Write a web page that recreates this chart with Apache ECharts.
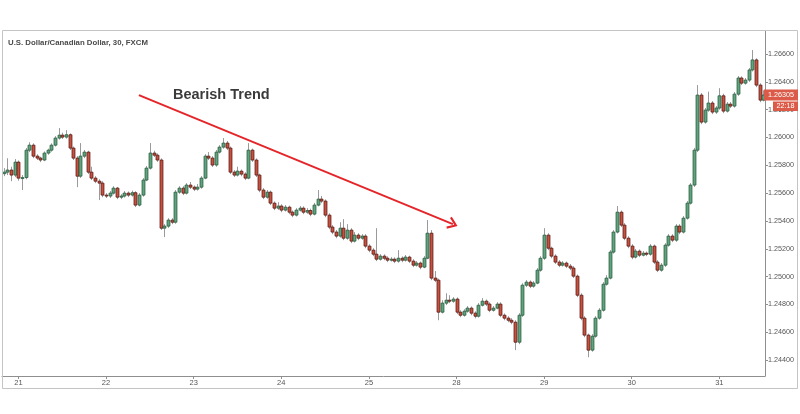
<!DOCTYPE html>
<html><head><meta charset="utf-8">
<script src="https://cdn.jsdelivr.net/npm/echarts@6/dist/echarts.min.js"></script>
<style>html,body{margin:0;padding:0;background:#fff}#c{width:800px;height:414px}</style>
</head><body><div id="c"></div>
<script>
// ---- data (1-hour candles) ----
const days = ['20','21','22','23','24','25','28','29','30','31'];
const candlesPerDay = [4,24,24,24,24,24,24,24,24,13];
const firstHour = [20,0,0,0,0,0,0,0,0,0];
const yTicks = [1.244,1.246,1.248,1.250,1.252,1.254,1.256,1.258,1.260,1.262,1.264,1.266];
const chartTitle = 'U.S. Dollar/Canadian Dollar, 30, FXCM';
const annotationText = 'Bearish Trend';
const trendStart = [37, 1.26305];
const trendEnd = [123, 1.25377];
const countdown = '22:18';

const opens = [
1.25740,1.25751,1.25766,1.25730,1.25823,1.25708,1.25712,1.25909,1.25945,1.25866,
1.25852,1.25838,1.25888,1.25909,1.25945,1.25996,1.26017,1.26003,1.26020,1.25924,
1.25852,1.25722,1.25866,1.25895,1.25751,1.25708,1.25686,1.25672,1.25586,1.25579,
1.25600,1.25636,1.25571,1.25579,1.25600,1.25586,1.25603,1.25514,1.25586,1.25694,
1.25780,1.25888,1.25873,1.25838,1.25348,1.25363,1.25406,1.25391,1.25607,1.25636,
1.25600,1.25658,1.25643,1.25629,1.25643,1.25708,1.25866,1.25852,1.25802,1.25895,
1.25931,1.25960,1.25924,1.25751,1.25730,1.25758,1.25737,1.25708,1.25909,1.25838,
1.25730,1.25622,1.25571,1.25607,1.25528,1.25492,1.25507,1.25478,1.25499,1.25463,
1.25442,1.25478,1.25492,1.25463,1.25475,1.25449,1.25514,1.25557,1.25543,1.25442,
1.25356,1.25320,1.25291,1.25348,1.25276,1.25334,1.25255,1.25298,1.25276,1.25291,
1.25219,1.25190,1.25161,1.25125,1.25147,1.25132,1.25118,1.25125,1.25111,1.25132,
1.25118,1.25140,1.25111,1.25082,1.25097,1.25068,1.25132,1.25312,1.24989,1.24974,
1.24744,1.24809,1.24830,1.24823,1.24838,1.24744,1.24722,1.24751,1.24773,1.24737,
1.24715,1.24794,1.24823,1.24802,1.24758,1.24773,1.24802,1.24722,1.24701,1.24686,
1.24672,1.24528,1.24722,1.24938,1.24960,1.24931,1.24953,1.25046,1.25132,1.25298,
1.25204,1.25147,1.25104,1.25082,1.25097,1.25075,1.25061,1.25003,1.24866,1.24701,
1.24579,1.24471,1.24571,1.24701,1.24758,1.24945,1.24989,1.25176,1.25320,1.25463,
1.25370,1.25276,1.25219,1.25140,1.25183,1.25154,1.25168,1.25161,1.25219,1.25104,
1.25046,1.25082,1.25226,1.25291,1.25262,1.25363,1.25320,1.25420,1.25528,1.25658,
1.25909,1.26305,1.26111,1.26197,1.26248,1.26183,1.26212,1.26300,1.26190,1.26240,
1.26226,1.26312,1.26428,1.26391,1.26413,1.26486,1.26558,1.26377,1.26269];

const closes = [
1.25751,1.25766,1.25730,1.25823,1.25708,1.25712,1.25909,1.25945,1.25866,1.25852,
1.25838,1.25888,1.25909,1.25945,1.25996,1.26017,1.26003,1.26020,1.25924,1.25852,
1.25722,1.25866,1.25895,1.25751,1.25708,1.25686,1.25672,1.25586,1.25579,1.25600,
1.25636,1.25571,1.25579,1.25600,1.25586,1.25603,1.25514,1.25586,1.25694,1.25780,
1.25888,1.25873,1.25838,1.25348,1.25363,1.25406,1.25391,1.25607,1.25636,1.25600,
1.25658,1.25643,1.25629,1.25643,1.25708,1.25866,1.25852,1.25802,1.25895,1.25931,
1.25960,1.25924,1.25751,1.25730,1.25758,1.25737,1.25708,1.25909,1.25838,1.25730,
1.25622,1.25571,1.25607,1.25528,1.25492,1.25507,1.25478,1.25499,1.25463,1.25442,
1.25478,1.25492,1.25463,1.25475,1.25449,1.25514,1.25557,1.25543,1.25442,1.25356,
1.25320,1.25291,1.25348,1.25276,1.25334,1.25255,1.25298,1.25276,1.25291,1.25219,
1.25190,1.25161,1.25125,1.25147,1.25132,1.25118,1.25125,1.25111,1.25132,1.25118,
1.25140,1.25111,1.25082,1.25097,1.25068,1.25132,1.25312,1.24989,1.24974,1.24744,
1.24809,1.24830,1.24823,1.24838,1.24744,1.24722,1.24751,1.24773,1.24737,1.24715,
1.24794,1.24823,1.24802,1.24758,1.24773,1.24802,1.24722,1.24701,1.24686,1.24672,
1.24528,1.24722,1.24938,1.24960,1.24931,1.24953,1.25046,1.25132,1.25298,1.25204,
1.25147,1.25104,1.25082,1.25097,1.25075,1.25061,1.25003,1.24866,1.24701,1.24579,
1.24471,1.24571,1.24701,1.24758,1.24945,1.24989,1.25176,1.25320,1.25463,1.25370,
1.25276,1.25219,1.25140,1.25183,1.25154,1.25168,1.25161,1.25219,1.25104,1.25046,
1.25082,1.25226,1.25291,1.25262,1.25363,1.25320,1.25420,1.25528,1.25658,1.25909,
1.26305,1.26111,1.26197,1.26248,1.26183,1.26212,1.26300,1.26190,1.26240,1.26226,
1.26312,1.26428,1.26391,1.26413,1.26486,1.26558,1.26377,1.26269,1.26305];

const lows = [
1.25722,1.25730,1.25686,1.25715,1.25690,1.25622,1.25700,1.25895,1.25852,1.25838,
1.25823,1.25830,1.25876,1.25898,1.25935,1.25985,1.25990,1.25992,1.25910,1.25838,
1.25643,1.25710,1.25852,1.25737,1.25694,1.25672,1.25550,1.25571,1.25565,1.25565,
1.25590,1.25557,1.25557,1.25568,1.25572,1.25575,1.25500,1.25505,1.25575,1.25686,
1.25770,1.25860,1.25825,1.25335,1.25284,1.25350,1.25377,1.25380,1.25595,1.25586,
1.25590,1.25629,1.25615,1.25618,1.25632,1.25700,1.25838,1.25788,1.25790,1.25885,
1.25920,1.25910,1.25737,1.25716,1.25720,1.25722,1.25694,1.25700,1.25825,1.25716,
1.25607,1.25557,1.25560,1.25514,1.25478,1.25480,1.25463,1.25468,1.25449,1.25427,
1.25432,1.25468,1.25449,1.25452,1.25434,1.25440,1.25505,1.25528,1.25427,1.25341,
1.25305,1.25276,1.25280,1.25262,1.25265,1.25240,1.25245,1.25262,1.25265,1.25204,
1.25175,1.25147,1.25111,1.25115,1.25118,1.25104,1.25108,1.25097,1.25100,1.25104,
1.25108,1.25097,1.25068,1.25072,1.25053,1.25060,1.25125,1.24974,1.24960,1.24686,
1.24735,1.24795,1.24809,1.24812,1.24730,1.24708,1.24712,1.24740,1.24722,1.24700,
1.24705,1.24785,1.24788,1.24744,1.24748,1.24765,1.24708,1.24686,1.24672,1.24657,
1.24471,1.24514,1.24710,1.24925,1.24917,1.24920,1.24945,1.25035,1.25120,1.25190,
1.25132,1.25090,1.25068,1.25072,1.25061,1.25046,1.24989,1.24852,1.24686,1.24564,
1.24420,1.24460,1.24560,1.24690,1.24748,1.24935,1.24980,1.25165,1.25310,1.25356,
1.25262,1.25204,1.25125,1.25130,1.25140,1.25145,1.25147,1.25150,1.25090,1.25032,
1.25035,1.25070,1.25215,1.25248,1.25250,1.25305,1.25310,1.25410,1.25518,1.25645,
1.25895,1.26096,1.26100,1.26185,1.26168,1.26170,1.26200,1.26175,1.26180,1.26212,
1.26215,1.26300,1.26377,1.26380,1.26400,1.26475,1.26362,1.26254,1.26260];

const highs = [
1.25780,1.25851,1.25790,1.25845,1.25835,1.25730,1.25925,1.25966,1.25958,1.25880,
1.25862,1.25900,1.25920,1.25958,1.26010,1.26068,1.26035,1.26053,1.26030,1.25935,
1.25866,1.25960,1.25910,1.25905,1.25790,1.25722,1.25700,1.25686,1.25600,1.25615,
1.25650,1.25645,1.25593,1.25615,1.25612,1.25618,1.25614,1.25600,1.25708,1.25795,
1.25960,1.25905,1.25885,1.25850,1.25377,1.25420,1.25420,1.25622,1.25650,1.25650,
1.25672,1.25680,1.25655,1.25665,1.25722,1.25880,1.25895,1.25866,1.25910,1.25945,
1.25996,1.25975,1.25935,1.25765,1.25790,1.25770,1.25750,1.25960,1.25920,1.25850,
1.25740,1.25636,1.25622,1.25618,1.25540,1.25535,1.25520,1.25514,1.25510,1.25475,
1.25492,1.25507,1.25505,1.25492,1.25488,1.25530,1.25622,1.25580,1.25555,1.25455,
1.25370,1.25335,1.25391,1.25413,1.25377,1.25348,1.25320,1.25312,1.25305,1.25305,
1.25233,1.25204,1.25348,1.25161,1.25160,1.25145,1.25140,1.25138,1.25190,1.25145,
1.25155,1.25150,1.25125,1.25111,1.25108,1.25147,1.25406,1.25334,1.25040,1.24985,
1.24830,1.24880,1.24866,1.24852,1.24850,1.24758,1.24765,1.24788,1.24785,1.24750,
1.24809,1.24845,1.24835,1.24815,1.24788,1.24816,1.24815,1.24735,1.24715,1.24700,
1.24686,1.24737,1.24952,1.24975,1.24972,1.24967,1.25061,1.25147,1.25348,1.25312,
1.25215,1.25160,1.25118,1.25111,1.25108,1.25090,1.25075,1.25015,1.24880,1.24715,
1.24590,1.24586,1.24715,1.24773,1.24960,1.25010,1.25190,1.25334,1.25507,1.25475,
1.25384,1.25290,1.25233,1.25198,1.25195,1.25183,1.25180,1.25233,1.25230,1.25118,
1.25097,1.25240,1.25305,1.25305,1.25377,1.25377,1.25435,1.25543,1.25672,1.25925,
1.26377,1.26320,1.26212,1.26330,1.26262,1.26226,1.26355,1.26315,1.26255,1.26255,
1.26327,1.26442,1.26440,1.26428,1.26500,1.26629,1.26570,1.26390,1.26340];

// ---- build ----
const categories = [];
days.forEach((d, k) => {
  for (let h = 0; h < candlesPerDay[k]; h++) {
    categories.push(d + ' ' + String(firstHour[k] + h).padStart(2, '0') + ':00');
  }
});
const seriesData = categories.map((c, i) => [i, opens[i], closes[i], lows[i], highs[i]]);
const isDayStart = (idx, val) => String(val).endsWith(' 00:00');

const UP_FILL = '#5fa37f', UP_STROKE = '#2a5e40';
const DN_FILL = '#c9503f', DN_STROKE = '#5b1a13';
const WICK = '#9a9a9c';
const FONT = '"Liberation Sans", Arial, sans-serif';

function renderCandle(params, api) {
  const i = api.value(0), o = api.value(1), c = api.value(2), l = api.value(3), h = api.value(4);
  const pO = api.coord([i, o]), pC = api.coord([i, c]);
  const pL = api.coord([i, l]), pH = api.coord([i, h]);
  const bw = api.size([1, 0])[0] * 0.8;
  const x = Math.round(pO[0]) + 0.5;
  const top = Math.min(pO[1], pC[1]), bot = Math.max(pO[1], pC[1]);
  const up = c >= o;
  return {
    type: 'group',
    children: [
      { type: 'line', shape: { x1: x, y1: pH[1], x2: x, y2: pL[1] },
        style: { stroke: WICK, lineWidth: 1 } },
      { type: 'rect', shape: { x: x - bw / 2, y: top, width: bw, height: Math.max(bot - top, 1) },
        style: { fill: up ? UP_FILL : DN_FILL, stroke: up ? UP_STROKE : DN_STROKE, lineWidth: 0.8 } }
    ]
  };
}

const chart = echarts.init(document.getElementById('c'), null, { renderer: 'canvas' });
const option = {
  animation: false,
  backgroundColor: '#ffffff',
  grid: { left: 2, right: 35, top: 31, bottom: 38, containLabel: false },
  xAxis: {
    type: 'category', data: categories, boundaryGap: true,
    axisLine: { show: true, lineStyle: { color: '#8f8f8f', width: 1 } },
    axisTick: { show: true, alignWithLabel: true, interval: isDayStart, length: 3,
      lineStyle: { color: '#8f8f8f' } },
    axisLabel: { interval: isDayStart, formatter: v => v.split(' ')[0],
      fontSize: 7.5, color: '#555', margin: 3, fontFamily: FONT },
    splitLine: { show: false }
  },
  yAxis: {
    type: 'value', position: 'right', min: 1.24285, max: 1.26766, scale: true,
    axisLine: { show: true, lineStyle: { color: '#8f8f8f', width: 1 } },
    axisTick: { show: true, length: 3, customValues: yTicks, lineStyle: { color: '#8f8f8f' } },
    axisLabel: { customValues: yTicks, formatter: v => v.toFixed(5),
      fontSize: 7.2, color: '#555', margin: 3, fontFamily: FONT },
    splitLine: { show: false }
  },
  series: [{
    type: 'custom',
    renderItem: renderCandle,
    data: seriesData,
    encode: { x: 0, y: [1, 2, 3, 4] },
    clip: true,
    markLine: {
      silent: true,
      symbol: ['none', 'path://M5,0 L10,9 L8.6,10.2 L5,3.6 L1.4,10.2 L0,9 Z'],
      symbolSize: [13, 10],
      lineStyle: { color: '#e4252a', width: 2, type: 'solid' },
      itemStyle: { color: '#e4252a' },
      label: { show: false },
      data: [[{ coord: trendStart }, { coord: trendEnd }]]
    }
  }],
  graphic: [
    { type: 'rect', shape: { x: 2.5, y: 30.5, width: 795, height: 358 },
      style: { fill: 'none', stroke: '#c4c4c4', lineWidth: 1 }, z: 100, silent: true },
    { type: 'text', left: 8, top: 39,
      style: { text: chartTitle, font: 'bold 7.8px ' + FONT, fill: '#4a4a4a' } },
    { type: 'text', left: 173, top: 87,
      style: { text: annotationText, font: 'bold 14.5px ' + FONT, fill: '#3a3a3a' } }
  ]
};
chart.setOption(option);

// last-price tag on the price scale
const lastPrice = closes[closes.length - 1];
const yPix = chart.convertToPixel({ yAxisIndex: 0 }, lastPrice);
chart.setOption({
  graphic: option.graphic.concat([
    { type: 'rect', shape: { x: 764, y: Math.round(yPix) - 5.5, width: 34, height: 11 },
      style: { fill: '#dc5a48' }, z: 110 },
    { type: 'text', x: 781, y: Math.round(yPix), z: 111,
      style: { text: lastPrice.toFixed(5), font: '7.2px ' + FONT, fill: '#fff',
        textAlign: 'center', textVerticalAlign: 'middle' } },
    { type: 'rect', shape: { x: 773, y: Math.round(yPix) + 6.5, width: 25, height: 9.5 },
      style: { fill: '#dc5a48' }, z: 110 },
    { type: 'text', x: 785.5, y: Math.round(yPix) + 11.2, z: 111,
      style: { text: countdown, font: '7.2px ' + FONT, fill: '#fff',
        textAlign: 'center', textVerticalAlign: 'middle' } }
  ])
});
</script>
</body></html>
